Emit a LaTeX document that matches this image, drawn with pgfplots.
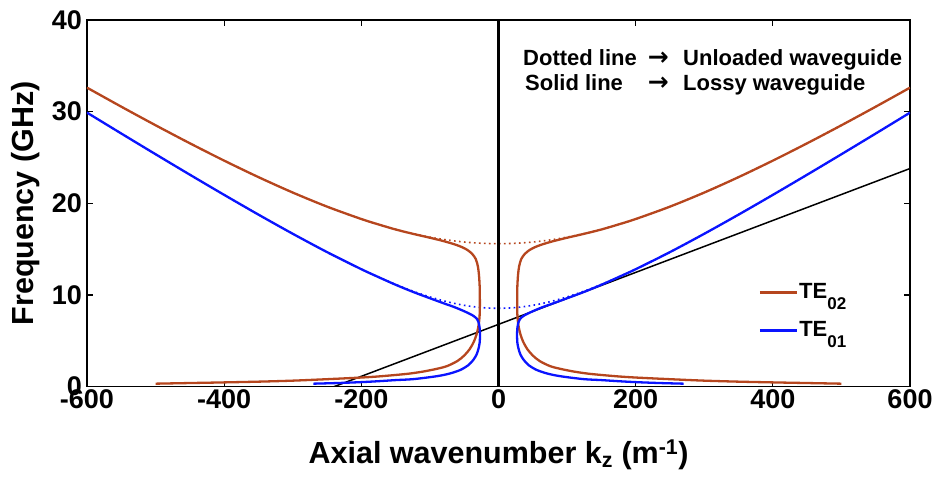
\documentclass[border=0pt]{standalone}
\usepackage{fontspec}
\setmainfont{Liberation Sans}
\newfontfamily\dejavu{DejaVu Sans}
\usepackage{pgfplots}
\pgfplotsset{compat=1.18}
\definecolor{brownc}{RGB}{182,70,30}
\definecolor{bluec}{RGB}{10,20,255}
\newcommand\lsub[1]{\raisebox{-0.5em}{\fontsize{17}{17}\selectfont #1}}
\pgfplotsset{
  base/.style={
    scale only axis, width=823pt, height=366.7pt,
    xmin=-600, xmax=600, ymin=0, ymax=40,
    legend style={draw=none, fill=none, anchor=north west,
      font=\bfseries\fontsize{22}{26}\selectfont, inner sep=0pt,
      nodes={inner sep=1pt}},
    legend cell align=left,
    legend image code/.code={\draw[##1, line width=2.6pt] (0pt,-1pt) -- (37pt,-1pt);},
  }
}
\begin{document}
\begin{tikzpicture}
\useasboundingbox (-87pt,-95.3pt) rectangle (854pt,386.7pt);
\begin{axis}[
  base,
  xtick={-600,-400,-200,0,200,400,600},
  xticklabels={-600,-400,-200,0,200,400,600},
  ytick={0,10,20,30,40},
  yticklabels={0,10,20,30,40},
  tick align=inside, major tick length=6pt,
  axis line style={line width=1.3pt},
  every tick/.style={black, line width=1.2pt},
  tick label style={font=\bfseries\fontsize{27}{30}\selectfont, inner sep=0pt},
  xticklabel style={yshift=-3pt},
  yticklabel style={xshift=-5pt},
  xlabel={Axial wavenumber k\textsubscript{z} (m\textsuperscript{-1})},
  ylabel={Frequency (GHz)},
  label style={font=\bfseries\fontsize{30.5}{34}\selectfont},
  xlabel style={at={(axis description cs:0.5,-0.2107)}, anchor=base, inner sep=0pt},
  ylabel style={at={(axis description cs:-0.0656,0.5)}, anchor=base, rotate=0, inner sep=0pt},
  legend style={at={(axis cs:379,11.43)}},
]
% unloaded (dotted)
\addplot[brownc, line width=1.6pt, dash pattern=on 1.6pt off 3.4pt, smooth, forget plot] coordinates {
(-600,32.620) (-550,30.544) (-500,28.518) (-450,26.552) (-400,24.660) (-350,22.861) (-300,21.179) (-250,19.643) (-225,18.942) (-200,18.290) (-175,17.697) (-150,17.165) (-125,16.703) (-100,16.315) (-75,16.006) (-50,15.782) (-25,15.646) (0,15.600)
(25,15.646) (50,15.782) (75,16.006) (100,16.315) (125,16.703) (150,17.165) (175,17.697) (200,18.290) (225,18.942) (250,19.643) (300,21.179) (350,22.861) (400,24.660) (450,26.552) (500,28.518) (550,30.544) (600,32.620)};
\addplot[bluec, line width=1.6pt, dash pattern=on 1.6pt off 3.4pt, smooth, forget plot] coordinates {
(-600,29.897) (-550,27.617) (-500,25.358) (-450,23.125) (-400,20.925) (-350,18.771) (-300,16.682) (-250,14.683) (-225,13.730) (-200,12.817) (-175,11.955) (-150,11.153) (-125,10.427) (-100,9.793) (-75,9.269) (-50,8.877) (-25,8.633) (0,8.550)
(25,8.633) (50,8.877) (75,9.269) (100,9.793) (125,10.427) (150,11.153) (175,11.955) (200,12.817) (225,13.730) (250,14.683) (300,16.682) (350,18.771) (400,20.925) (450,23.125) (500,25.358) (550,27.617) (600,29.897)};
% black lines
\addplot[black, line width=1.5pt, forget plot] coordinates {(-240,0) (600,23.8)};
\addplot[black, line width=2.2pt, forget plot] coordinates {(0,0) (0,40)};
% lossy TE02
\addplot[brownc, line width=2.3pt, smooth] coordinates {
(600,32.62) (550,30.544) (500,28.518) (450,26.552) (400,24.66) (350,22.861) (300,21.179) (250,19.643) (200,18.29) (175,17.70) (150,17.15) (125,16.68) (100,16.25) (80,15.88) (65,15.55) (54,15.25) (45,14.9) (38,14.45) (33,13.9) (30,13.1) (28.5,12.2) (27.5,11.0) (27.2,9.5) (27.3,8.2) (28,7.3) (29.5,6.5) (32,5.7) (36,4.9) (42,4.1) (50,3.4) (60,2.8) (75,2.25) (90,1.95) (110,1.65) (130,1.43) (150,1.28) (175,1.12) (200,1.0) (250,0.82) (300,0.66) (350,0.55) (400,0.47) (450,0.4) (500,0.33)};
\addlegendentry{TE\lsub{02}}
\addplot[brownc, line width=2.3pt, smooth, forget plot] coordinates {
(-600,32.62) (-550,30.544) (-500,28.518) (-450,26.552) (-400,24.66) (-350,22.861) (-300,21.179) (-250,19.643) (-200,18.29) (-175,17.70) (-150,17.15) (-125,16.68) (-100,16.25) (-80,15.88) (-65,15.55) (-54,15.25) (-45,14.9) (-38,14.45) (-33,13.9) (-30,13.1) (-28.5,12.2) (-27.5,11.0) (-27.2,9.5) (-27.3,8.2) (-28,7.3) (-29.5,6.5) (-32,5.7) (-36,4.9) (-42,4.1) (-50,3.4) (-60,2.8) (-75,2.25) (-90,1.95) (-110,1.65) (-130,1.43) (-150,1.28) (-175,1.12) (-200,1.0) (-250,0.82) (-300,0.66) (-350,0.55) (-400,0.47) (-450,0.4) (-500,0.33)};
% lossy TE01 (left branch)
\addplot[bluec, line width=2.3pt, smooth, forget plot] coordinates {
(-600,29.897) (-550,27.617) (-500,25.358) (-450,23.125) (-400,20.925) (-350,18.771) (-300,16.682) (-250,14.683) (-200,12.817) (-175,11.955) (-150,11.12) (-125,10.35) (-100,9.65) (-80,9.1) (-65,8.7) (-52,8.3) (-42,7.95) (-36,7.7) (-32,7.45) (-29,7.0) (-27.5,6.4) (-27,5.6) (-27.5,4.8) (-29,4.2) (-32,3.5) (-37,2.9) (-44,2.35) (-55,1.85) (-68,1.5) (-82,1.25) (-97,1.07) (-125,0.82) (-150,0.72) (-175,0.6) (-200,0.5) (-235,0.4) (-270,0.33)};
% annotation text
\node[anchor=base west, inner sep=0pt, font=\bfseries\fontsize{22}{26}\selectfont] at (axis cs:35.7,35.09) {Dotted line};
\node[anchor=base west, inner sep=0pt, font=\bfseries\fontsize{22}{26}\selectfont] at (axis cs:38.6,32.36) {Solid line};
\node[anchor=base, inner sep=0pt, font=\dejavu\bfseries\fontsize{25}{26}\selectfont] at (axis cs:233,35.0) {→};
\node[anchor=base, inner sep=0pt, font=\dejavu\bfseries\fontsize{25}{26}\selectfont] at (axis cs:233,32.27) {→};
\node[anchor=base west, inner sep=0pt, font=\bfseries\fontsize{22}{26}\selectfont] at (axis cs:269,35.09) {Unloaded waveguide};
\node[anchor=base west, inner sep=0pt, font=\bfseries\fontsize{22}{26}\selectfont] at (axis cs:269,32.36) {Lossy waveguide};
\end{axis}
\begin{axis}[
  base, hide axis,
  legend style={at={(axis cs:379,7.25)}},
]
% lossy TE01 (right branch)
\addplot[bluec, line width=2.3pt, smooth] coordinates {
(600,29.897) (550,27.617) (500,25.358) (450,23.125) (400,20.925) (350,18.771) (300,16.682) (250,14.683) (200,12.817) (175,11.955) (150,11.12) (125,10.35) (100,9.65) (80,9.1) (65,8.7) (52,8.3) (42,7.95) (36,7.7) (32,7.45) (29,7.0) (27.5,6.4) (27,5.6) (27.5,4.8) (29,4.2) (32,3.5) (37,2.9) (44,2.35) (55,1.85) (68,1.5) (82,1.25) (97,1.07) (125,0.82) (150,0.72) (175,0.6) (200,0.5) (235,0.4) (270,0.33)};
\addlegendentry{TE\lsub{01}}
\end{axis}
\end{tikzpicture}
\end{document}
